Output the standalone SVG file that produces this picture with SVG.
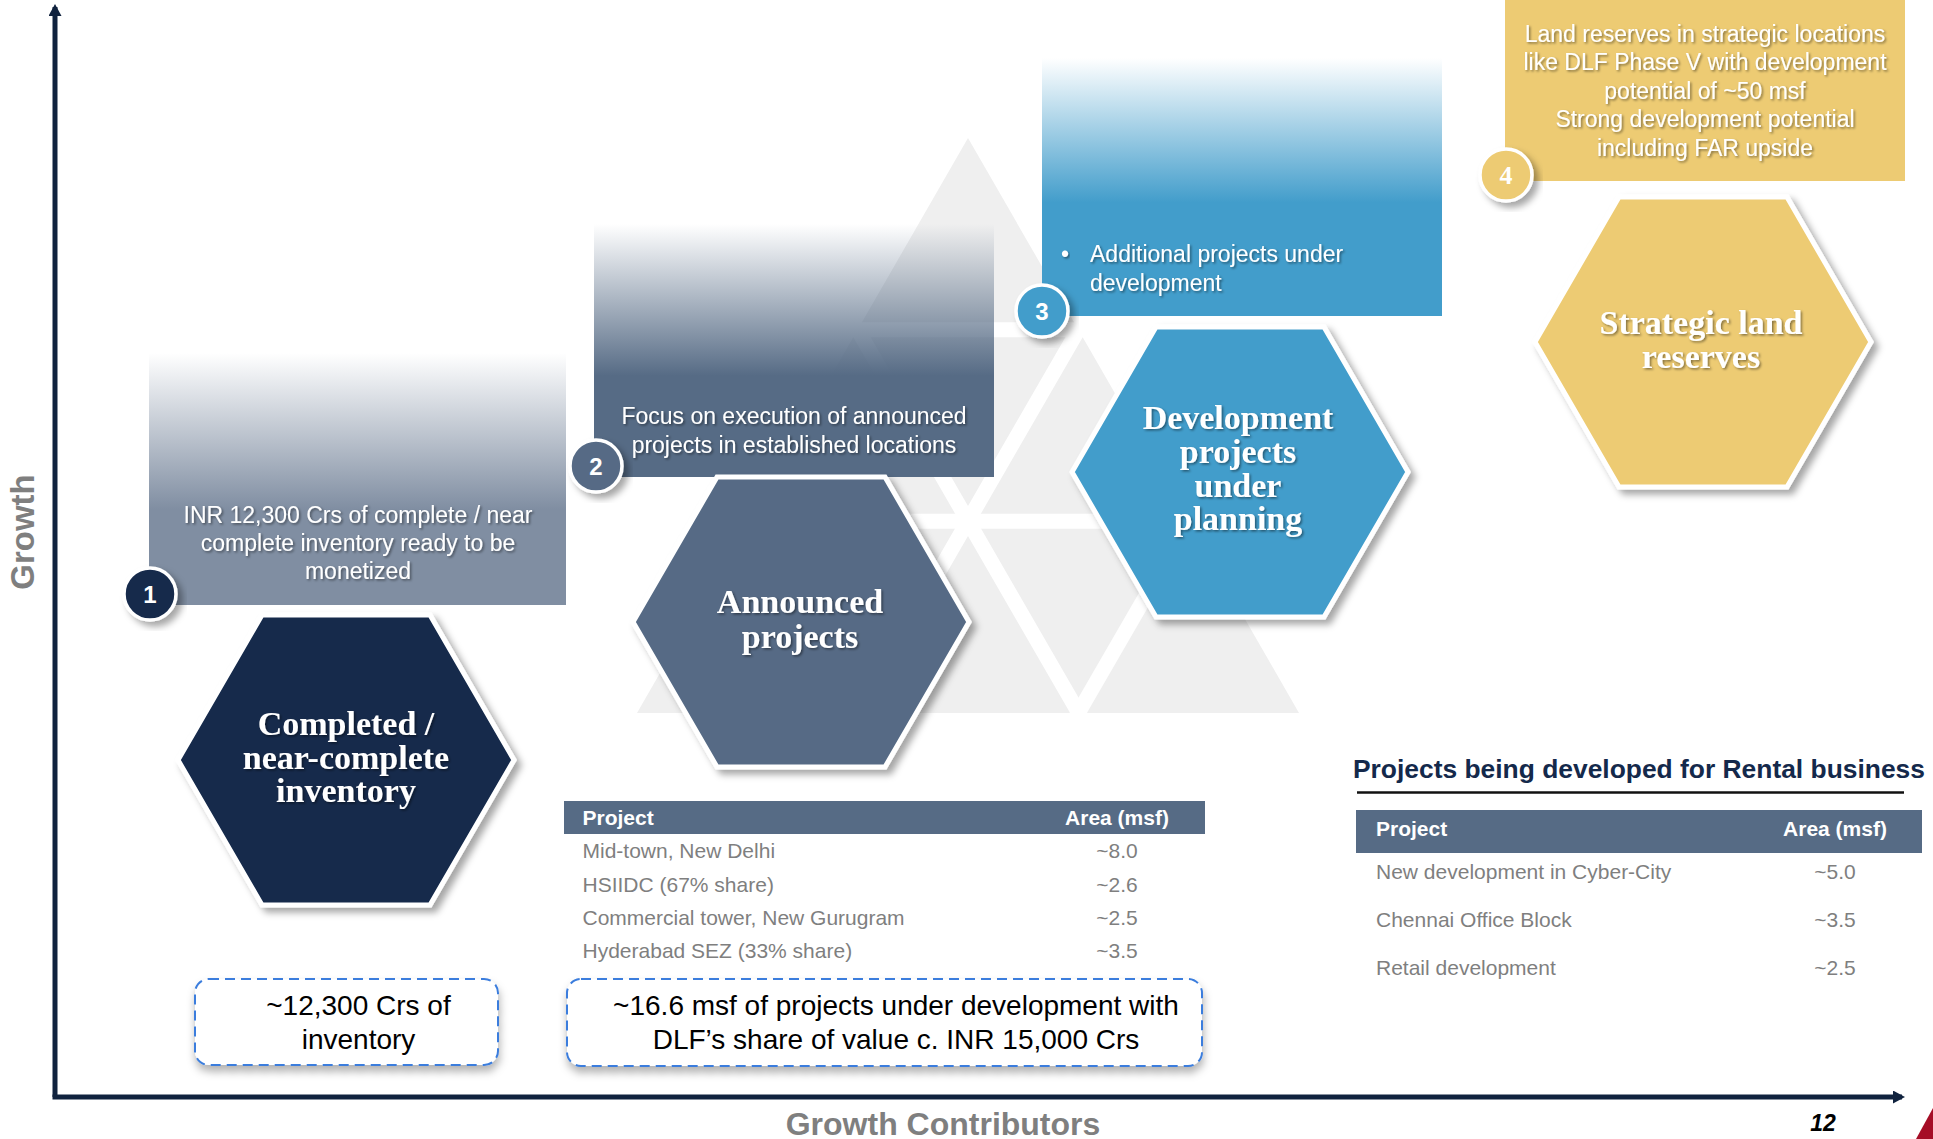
<svg xmlns="http://www.w3.org/2000/svg" width="1933" height="1139" viewBox="0 0 1933 1139">
  <defs>
    <linearGradient id="fadeSlateLight" x1="0" y1="0" x2="0" y2="1">
      <stop offset="0" stop-color="#808ea2" stop-opacity="0"/>
      <stop offset="0.62" stop-color="#808ea2" stop-opacity="1"/>
    </linearGradient>
    <linearGradient id="fadeSlate" x1="0" y1="0" x2="0" y2="1">
      <stop offset="0" stop-color="#566b85" stop-opacity="0"/>
      <stop offset="0.6" stop-color="#566b85" stop-opacity="1"/>
    </linearGradient>
    <linearGradient id="fadeBlue" x1="0" y1="0" x2="0" y2="1">
      <stop offset="0" stop-color="#429dcb" stop-opacity="0"/>
      <stop offset="0.56" stop-color="#429dcb" stop-opacity="1"/>
    </linearGradient>
    <filter id="hexShadow" x="-15%" y="-15%" width="135%" height="135%">
      <feDropShadow dx="5" dy="5" stdDeviation="3.5" flood-color="#000" flood-opacity="0.35"/>
    </filter>
    <filter id="txtShadow" x="-5%" y="-20%" width="115%" height="150%">
      <feDropShadow dx="1.5" dy="1.5" stdDeviation="1" flood-color="#000" flood-opacity="0.45"/>
    </filter>
    <filter id="noteShadow" x="-10%" y="-20%" width="120%" height="150%">
      <feDropShadow dx="1" dy="6" stdDeviation="4" flood-color="#000" flood-opacity="0.3"/>
    </filter>
    <marker id="axisArrow" markerUnits="userSpaceOnUse" markerWidth="14" markerHeight="14" refX="9" refY="6.5" orient="auto">
      <path d="M0,0 L12,6.5 L0,13 Z" fill="#10223e"/>
    </marker>
  </defs>
  <style>
    .sans{font-family:"Liberation Sans",Arial,sans-serif}
    .serif{font-family:"Liberation Serif","Times New Roman",serif}
    .hex{stroke:#fff;stroke-width:5;stroke-linejoin:miter;filter:url(#hexShadow)}
    .hex-label{font-family:"Liberation Serif","Times New Roman",serif;font-weight:bold;font-size:34px;fill:#fff;text-anchor:middle;filter:url(#txtShadow)}
    .box-text{font-family:"Liberation Sans",Arial,sans-serif;font-size:23px;fill:#fff;filter:url(#txtShadow)}
    .badge{stroke:#fff;stroke-width:3.5;filter:url(#hexShadow)}
    .badge-num{font-family:"Liberation Sans",Arial,sans-serif;font-weight:bold;font-size:24px;fill:#fff;text-anchor:middle}
    .th{font-family:"Liberation Sans",Arial,sans-serif;font-weight:bold;font-size:21px;fill:#fff}
    .td{font-family:"Liberation Sans",Arial,sans-serif;font-size:21px;fill:#7f7f7f}
    .note{fill:#fff;stroke:#3b7ddd;stroke-width:2;stroke-dasharray:10 6;filter:url(#noteShadow)}
    .note-text{font-family:"Liberation Sans",Arial,sans-serif;font-size:28px;fill:#000;text-anchor:middle}
    .axis{stroke:#10223e;stroke-width:5;fill:none}
    .axis-label{font-family:"Liberation Sans",Arial,sans-serif;font-weight:bold;fill:#7f7f7f;text-anchor:middle}
    .mid{text-anchor:middle}
  </style>

  <rect width="1933" height="1139" fill="#fff"/>

  <!-- backdrop: faint triangle mosaic -->
  <g id="backdrop">
    <polygon points="968,138 1299,713 637,713" fill="#efefef"/>
    <g stroke="#fff" stroke-width="15" stroke-linecap="square">
      <line x1="840" y1="329.7" x2="1096" y2="329.7"/>
      <line x1="730" y1="521.3" x2="1206" y2="521.3"/>
      <line x1="852" y1="722" x2="1084" y2="320"/>
      <line x1="1073" y1="722" x2="1195" y2="511"/>
      <line x1="1084" y1="722" x2="852" y2="320"/>
      <line x1="863" y1="722" x2="741" y2="511"/>
    </g>
  </g>

  <!-- axes -->
  <g id="connectors">
    <line class="axis" x1="55" y1="1097" x2="55" y2="7" marker-end="url(#axisArrow)"/>
    <line class="axis" x1="52.5" y1="1097" x2="1902" y2="1097" marker-end="url(#axisArrow)"/>
  </g>
  <text class="axis-label" font-size="33" transform="translate(34,532) rotate(-90)">Growth</text>
  <text class="axis-label" font-size="32" x="943" y="1135">Growth Contributors</text>

  <!-- stage 1 -->
  <g id="stage1">
    <rect x="149" y="353" width="417" height="252" fill="url(#fadeSlateLight)"/>
    <text class="box-text mid"><tspan x="358" y="522.5">INR 12,300 Crs of complete / near</tspan><tspan x="358" y="550.5">complete inventory ready to be</tspan><tspan x="358" y="578.5">monetized</tspan></text>
    <polygon class="hex" fill="#14294b" points="178,760 262,615 430,615 514,760 430,905 262,905"/>
    <text class="hex-label"><tspan x="346" y="735">Completed /</tspan><tspan x="346" y="768.5">near-complete</tspan><tspan x="346" y="802">inventory</tspan></text>
    <circle class="badge" cx="150" cy="594" r="26" fill="#14294b"/>
    <text class="badge-num" x="150" y="603">1</text>
  </g>

  <!-- stage 2 -->
  <g id="stage2">
    <rect x="594" y="224" width="400" height="253" fill="url(#fadeSlate)"/>
    <text class="box-text mid"><tspan x="794" y="424">Focus on execution of announced</tspan><tspan x="794" y="453">projects in established locations</tspan></text>
    <polygon class="hex" fill="#566b85" points="633,622 717,477 885,477 969,622 885,767 717,767"/>
    <text class="hex-label"><tspan x="800" y="613">Announced</tspan><tspan x="800" y="648">projects</tspan></text>
    <circle class="badge" cx="596" cy="466" r="26" fill="#566b85"/>
    <text class="badge-num" x="596" y="475">2</text>
  </g>

  <!-- stage 3 -->
  <g id="stage3">
    <rect x="1042" y="58" width="400" height="258" fill="url(#fadeBlue)"/>
    <text class="box-text" x="1061" y="262">•</text>
    <text class="box-text"><tspan x="1090" y="262">Additional projects under</tspan><tspan x="1090" y="290.5">development</tspan></text>
    <polygon class="hex" fill="#429dcb" points="1072,472 1156,327 1324,327 1408,472 1324,617 1156,617"/>
    <text class="hex-label"><tspan x="1238" y="429">Development</tspan><tspan x="1238" y="463">projects</tspan><tspan x="1238" y="496.5">under</tspan><tspan x="1238" y="530">planning</tspan></text>
    <circle class="badge" cx="1042" cy="311" r="26" fill="#429dcb"/>
    <text class="badge-num" x="1042" y="320">3</text>
  </g>

  <!-- stage 4 -->
  <g id="stage4">
    <rect x="1505" y="0" width="400" height="181" fill="#edcb73"/>
    <text class="box-text mid"><tspan x="1705" y="41.5">Land reserves in strategic locations</tspan><tspan x="1705" y="70">like DLF Phase V with development</tspan><tspan x="1705" y="98.5">potential of ~50 msf</tspan><tspan x="1705" y="127">Strong development potential</tspan><tspan x="1705" y="155.5">including FAR upside</tspan></text>
    <polygon class="hex" fill="#edcb73" points="1535,342 1619,197 1787,197 1871,342 1787,487 1619,487"/>
    <text class="hex-label"><tspan x="1701" y="334">Strategic land</tspan><tspan x="1701" y="368">reserves</tspan></text>
    <circle class="badge" cx="1506" cy="175" r="26" fill="#edcb73"/>
    <text class="badge-num" x="1506" y="184" style="font-family:'Liberation Serif','Times New Roman',serif;font-size:26px">4</text>
  </g>

  <!-- announced projects table -->
  <g id="announced-table">
    <rect x="564" y="801" width="641" height="33" fill="#566b85"/>
    <text class="th" x="582.5" y="825">Project</text>
    <text class="th mid" x="1117" y="825">Area (msf)</text>
    <text class="td" x="582.5" y="858">Mid-town, New Delhi</text>
    <text class="td mid" x="1117" y="858">~8.0</text>
    <text class="td" x="582.5" y="891.5">HSIIDC (67% share)</text>
    <text class="td mid" x="1117" y="891.5">~2.6</text>
    <text class="td" x="582.5" y="925">Commercial tower, New Gurugram</text>
    <text class="td mid" x="1117" y="925">~2.5</text>
    <text class="td" x="582.5" y="958">Hyderabad SEZ (33% share)</text>
    <text class="td mid" x="1117" y="958">~3.5</text>
  </g>

  <!-- summary callouts -->
  <g id="note-inventory">
    <rect class="note" x="195" y="979" width="303" height="86" rx="14"/>
    <text class="note-text"><tspan x="358.5" y="1015">~12,300 Crs of</tspan><tspan x="358.5" y="1049">inventory</tspan></text>
  </g>
  <g id="note-development">
    <rect class="note" x="567" y="979" width="635" height="87" rx="14"/>
    <text class="note-text"><tspan x="896" y="1015">~16.6 msf of projects under development with</tspan><tspan x="896" y="1049">DLF’s share of value c. INR 15,000 Crs</tspan></text>
  </g>

  <!-- rental projects table -->
  <g id="rental-table">
    <text class="sans" x="1353" y="778" font-size="26.4" font-weight="bold" fill="#14294b">Projects being developed for Rental business</text>
    <line x1="1357" y1="792.5" x2="1904" y2="792.5" stroke="#111" stroke-width="2.5"/>
    <rect x="1356" y="810" width="566" height="43" fill="#566b85"/>
    <text class="th" x="1376" y="836">Project</text>
    <text class="th mid" x="1835" y="836">Area (msf)</text>
    <text class="td" x="1376" y="879">New development in Cyber-City</text>
    <text class="td mid" x="1835" y="879">~5.0</text>
    <text class="td" x="1376" y="927">Chennai Office Block</text>
    <text class="td mid" x="1835" y="927">~3.5</text>
    <text class="td" x="1376" y="975">Retail development</text>
    <text class="td mid" x="1835" y="975">~2.5</text>
  </g>

  <!-- page footer -->
  <text class="sans mid" x="1823" y="1131" font-size="23" font-weight="bold" font-style="italic" fill="#000">12</text>
  <polygon points="1916,1139 1933,1108 1933,1139" fill="#a50d26"/>
</svg>
